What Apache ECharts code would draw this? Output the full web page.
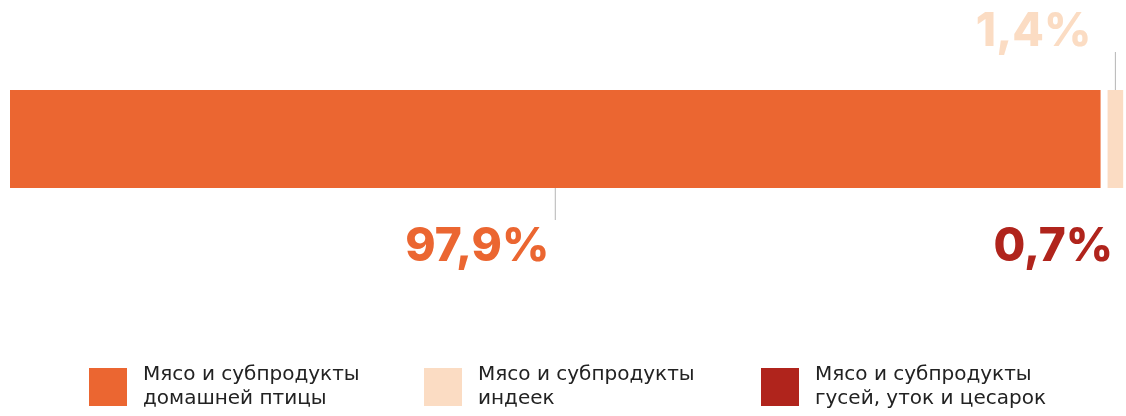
<!DOCTYPE html>
<html>
<head>
<meta charset="utf-8">
<script src="https://cdn.jsdelivr.net/npm/echarts@6/dist/echarts.min.js"></script>
<style>
  html, body { margin: 0; padding: 0; background: #fff; overflow: hidden; }
  #main { width: 1140px; height: 416px; }
</style>
</head>
<body>
<div id="main"></div>
<script>
// data
const categories = [
  'Мясо и субпродукты домашней птицы',
  'Мясо и субпродукты индеек',
  'Мясо и субпродукты гусей, уток и цесарок'
];
const legendLines = [
  ['Мясо и субпродукты', 'домашней птицы'],
  ['Мясо и субпродукты', 'индеек'],
  ['Мясо и субпродукты', 'гусей, уток и цесарок']
];
const shares = [97.9, 1.4, 0.7];
const shareLabels = ['97,9%', '1,4%', '0,7%'];
const gap = 0.63; // white space between segments, in %

// style
const colors = ['#EB6631', '#FBDCC3', '#B0241C'];
const labelAbove = [false, true, false];
const labelDx = [-6, -24, -21];
const legendLeft = [89, 424, 761];

// segment start/end along the axis
const spans = [];
let pos = 0;
shares.forEach(function (v, i) {
  spans.push([pos, pos + v, i]);
  pos += v + (i < shares.length - 1 ? gap : 0);
});
const total = pos;

const series = [];
shares.forEach(function (v, i) {
  series.push({
    name: categories[i],
    type: 'bar',
    stack: 'all',
    barWidth: 98,
    silent: true,
    itemStyle: { color: colors[i] },
    data: [v]
  });
  if (i < shares.length - 1) {
    series.push({
      name: 'gap' + i,
      type: 'bar',
      stack: 'all',
      silent: true,
      itemStyle: { color: 'transparent' },
      data: [gap]
    });
  }
});

series.push({
  type: 'custom',
  silent: true,
  clip: false,
  data: spans,
  renderItem: function (params, api) {
    const i = api.value(2);
    const a = api.coord([api.value(0), 0]);
    const b = api.coord([api.value(1), 0]);
    const cx = (a[0] + b[0]) / 2;
    const top = a[1] - 49;
    const bottom = a[1] + 49;
    const up = labelAbove[i];
    const y1 = up ? top : bottom;
    const y2 = up ? top - 38 : bottom + 32;
    const ty = up ? top - 58 : bottom + 59;
    return {
      type: 'group',
      children: [
        {
          type: 'line',
          shape: { x1: cx, y1: y1, x2: cx, y2: y2 },
          style: { stroke: '#b5b5b5', lineWidth: 1 }
        },
        {
          type: 'text',
          x: cx + labelDx[i],
          y: ty,
          style: {
            text: shareLabels[i],
            fill: colors[i],
            font: '800 46px Inter',
            align: 'right',
            verticalAlign: 'middle'
          }
        }
      ]
    };
  }
});

const legends = categories.map(function (name, i) {
  return {
    data: [name],
    left: legendLeft[i],
    top: 363,
    padding: 0,
    orient: 'horizontal',
    icon: 'rect',
    itemWidth: 38,
    itemHeight: 38,
    selectedMode: false,
    formatter: function () { return legendLines[i].join('\n'); },
    textStyle: {
      fontFamily: 'DejaVu Sans',
      fontSize: 20,
      lineHeight: 24,
      color: '#222',
      padding: [0, 0, 0, 11]
    }
  };
});

const myChart = echarts.init(document.getElementById('main'));
myChart.setOption({
  animation: false,
  grid: { left: 10, right: 2, top: 90, height: 98 },
  xAxis: { type: 'value', min: 0, max: total, show: false },
  yAxis: { type: 'category', data: [''], show: false },
  legend: legends,
  series: series
});
</script>
</body>
</html>
